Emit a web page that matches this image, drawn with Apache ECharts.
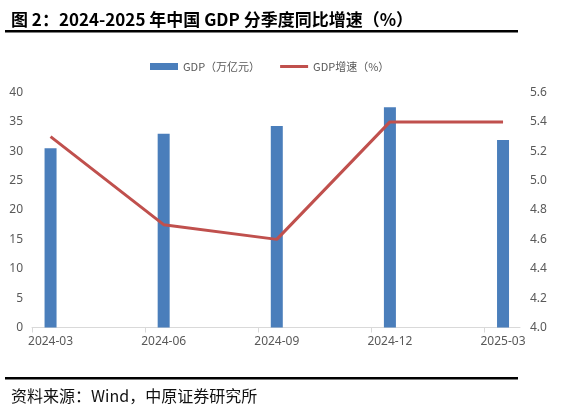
<!DOCTYPE html>
<html>
<head>
<meta charset="utf-8">
<script src="https://cdn.jsdelivr.net/npm/echarts@6/dist/echarts.min.js"></script>
<style>
html,body{margin:0;padding:0;background:#fff;}
#c{width:572px;height:410px;}
</style>
</head>
<body>
<div id="c"></div>
<script>
const categories = ['2024-03', '2024-06', '2024-09', '2024-12', '2025-03'];
const gdpValues = [30.5, 33.0, 34.3, 37.5, 31.9];
const growthValues = [5.3, 4.7, 4.6, 5.4, 5.4];
const leftTicks = [0, 40, 5];
const rightTicks = [4.0, 5.6, 0.2];

const TICK_OFFSET = 0.164;
const X_MIN = -0.164, X_MAX = 4.15;

const chart = echarts.init(document.getElementById('c'));
const axisFont = {color: '#595959', fontSize: 12, fontFamily: 'Noto Sans'};
chart.setOption({
  animation: false,
  backgroundColor: '#fff',
  title: [
    {text: '图 2：2024-2025 年中国 GDP 分季度同比增速（%）', left: 6, top: 6,
     textStyle: {fontSize: 17, fontWeight: 'bold', color: '#000', fontFamily: 'Noto Sans CJK SC'}},
    {text: '资料来源：Wind，中原证券研究所', left: 6, top: 383,
     textStyle: {fontSize: 16, fontWeight: 'normal', color: '#111', fontFamily: 'Noto Sans CJK SC'}}
  ],
  graphic: [
    {type: 'rect', shape: {x: 5, y: 30, width: 513, height: 2.5}, style: {fill: '#000'}},
    {type: 'rect', shape: {x: 5, y: 377, width: 513, height: 2.5}, style: {fill: '#000'}}
  ],
  legend: {
    left: 150, top: 61, padding: 0, itemGap: 20, itemWidth: 28, itemHeight: 7,
    textStyle: {color: '#595959', fontSize: 11, fontFamily: 'Noto Sans CJK SC'},
    data: [
      {name: 'GDP（万亿元）', icon: 'rect'},
      {name: 'GDP增速（%）', icon: 'path://M0 0 L28 0 L28 3 L0 3 Z'}
    ]
  },
  grid: {left: 32, right: 52, top: 92.5, bottom: 82.5, containLabel: false},
  xAxis: {
    type: 'value', min: X_MIN, max: X_MAX,
    axisLine: {show: true, lineStyle: {color: '#d9d9d9', width: 1}},
    axisTick: {show: true, length: 5, lineStyle: {color: '#d9d9d9'},
      customValues: categories.map((c, i) => i - TICK_OFFSET)},
    axisLabel: Object.assign({margin: 8, customValues: categories.map((c, i) => i),
      formatter: v => categories[Math.round(v)] || ''}, axisFont),
    splitLine: {show: false}
  },
  yAxis: [
    {type: 'value', min: leftTicks[0], max: leftTicks[1], interval: leftTicks[2],
     axisLine: {show: false}, axisTick: {show: false}, splitLine: {show: false},
     axisLabel: Object.assign({margin: 9}, axisFont)},
    {type: 'value', min: rightTicks[0], max: rightTicks[1], interval: rightTicks[2],
     axisLine: {show: false}, axisTick: {show: false}, splitLine: {show: false},
     axisLabel: Object.assign({margin: 10, formatter: v => v.toFixed(1)}, axisFont)}
  ],
  series: [
    {name: 'GDP（万亿元）', type: 'bar', yAxisIndex: 0, barWidth: 12,
     itemStyle: {color: '#4a7ebb'},
     data: gdpValues.map((v, i) => [i, v])},
    {name: 'GDP增速（%）', type: 'line', yAxisIndex: 1, symbol: 'none', showSymbol: false,
     lineStyle: {color: '#c0504d', width: 3}, itemStyle: {color: '#c0504d'},
     data: growthValues.map((v, i) => [i, v])}
  ]
});
</script>
</body>
</html>
